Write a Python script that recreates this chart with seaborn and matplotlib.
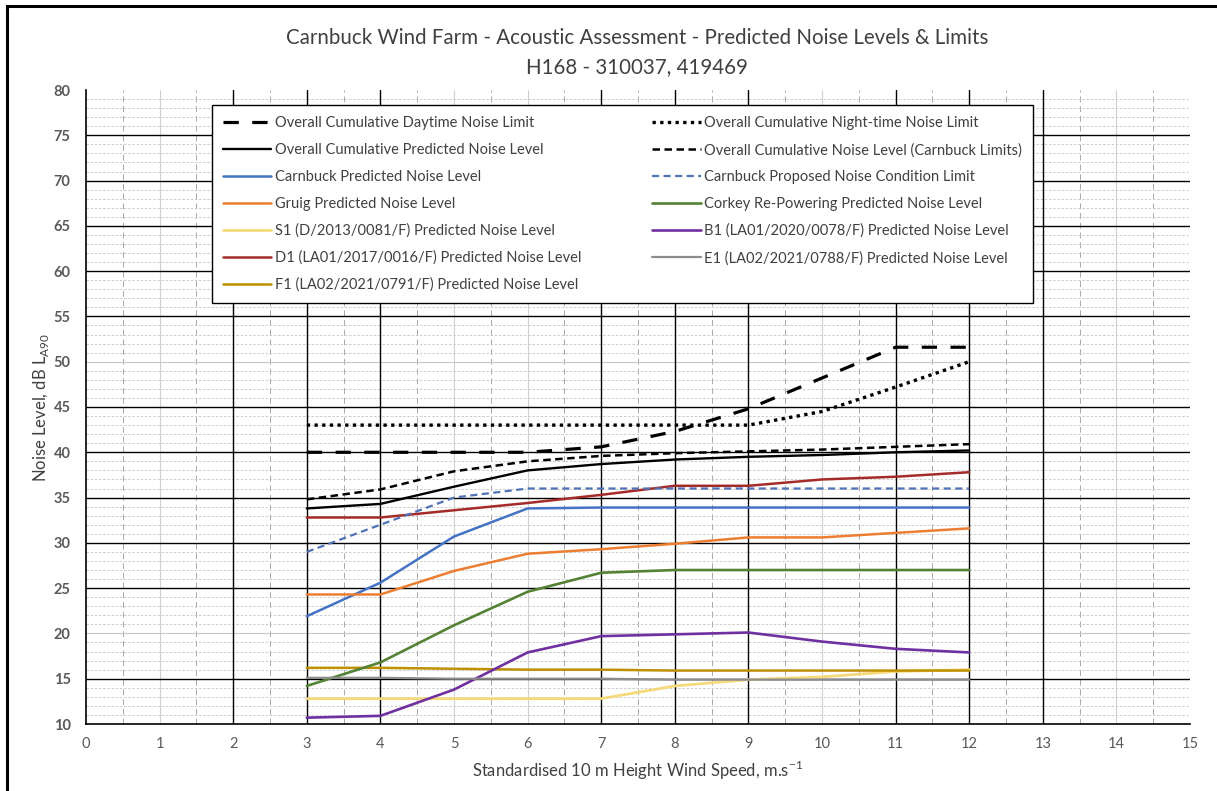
import matplotlib
matplotlib.use("Agg")
import matplotlib.pyplot as plt
from matplotlib.patches import Rectangle
from matplotlib.lines import Line2D
import seaborn as sns
import numpy as np

# Wind speed bins (m/s)
wind_speed = [3, 4, 5, 6, 7, 8, 9, 10, 11, 12]

# Noise levels, dB LA90
daytime_limit = [40.0, 40.0, 40.0, 40.0, 40.6, 42.3, 44.8, 48.2, 51.6, 51.6]
night_limit = [43.0, 43.0, 43.0, 43.0, 43.0, 43.0, 43.0, 44.5, 47.2, 50.0]
overall_predicted = [33.8, 34.3, 36.2, 38.0, 38.7, 39.2, 39.5, 39.7, 40.0, 40.2]
overall_carnbuck_limits = [34.8, 35.9, 37.9, 39.0, 39.6, 39.9, 40.1, 40.3, 40.6, 40.9]
carnbuck_predicted = [21.9, 25.6, 30.7, 33.8, 33.9, 33.9, 33.9, 33.9, 33.9, 33.9]
carnbuck_limit = [29.0, 32.0, 35.0, 36.0, 36.0, 36.0, 36.0, 36.0, 36.0, 36.0]
gruig = [24.3, 24.3, 26.9, 28.8, 29.3, 29.9, 30.6, 30.6, 31.1, 31.6]
corkey = [14.2, 16.8, 20.9, 24.6, 26.7, 27.0, 27.0, 27.0, 27.0, 27.0]
s1 = [12.8, 12.8, 12.8, 12.8, 12.8, 14.2, 14.9, 15.2, 15.8, 16.0]
b1 = [10.7, 10.9, 13.8, 17.9, 19.7, 19.9, 20.1, 19.1, 18.3, 17.9]
d1 = [32.8, 32.8, 33.6, 34.4, 35.3, 36.3, 36.3, 37.0, 37.3, 37.8]
e1 = [15.1, 15.1, 15.0, 15.0, 15.0, 14.9, 14.9, 14.9, 14.9, 14.9]
f1 = [16.2, 16.2, 16.1, 16.0, 16.0, 15.9, 15.9, 15.9, 15.9, 15.9]

labels = [
    "Overall Cumulative Daytime Noise Limit",
    "Overall Cumulative Predicted Noise Level",
    "Carnbuck Predicted Noise Level",
    "Gruig Predicted Noise Level",
    "S1 (D/2013/0081/F) Predicted Noise Level",
    "D1 (LA01/2017/0016/F) Predicted Noise Level",
    "F1 (LA02/2021/0791/F) Predicted Noise Level",
    "Overall Cumulative Night-time Noise Limit",
    "Overall Cumulative Noise Level (Carnbuck Limits)",
    "Carnbuck Proposed Noise Condition Limit",
    "Corkey Re-Powering Predicted Noise Level",
    "B1 (LA01/2020/0078/F) Predicted Noise Level",
    "E1 (LA02/2021/0788/F) Predicted Noise Level",
]

sns.set_style("white")
plt.rcParams["font.family"] = ["Lato", "DejaVu Sans"]

W, H = 1217, 791
fig = plt.figure(figsize=(W / 100, H / 100), dpi=100)
ax = fig.add_axes([86 / W, 1 - 724 / H, 1104 / W, 634 / H])
ax.set_xlim(0, 15)
ax.set_ylim(10, 80)

# Gridlines: dashed minor lines, solid major lines (a few rendered faint)
for xv in np.arange(0.5, 15, 1.0):
    ax.axvline(xv, color="#a8a8a8", lw=0.7, ls=(0, (6, 4)), zorder=0)
for yv in range(11, 80):
    if yv % 5:
        ax.axhline(yv, color="#c4c4c4", lw=0.6, ls=(0, (3, 2)), zorder=0)
strong_x = [2, 3, 4, 7, 8, 9, 11, 12, 13]
faint_x = [1, 5, 6, 10, 14]
strong_y = [15, 25, 30, 35, 40, 45, 55, 60, 65, 70, 75]
faint_y = [20, 50]
for xv in strong_x:
    ax.axvline(xv, color="black", lw=1.0, zorder=0.5)
for xv in faint_x:
    ax.axvline(xv, color="#d0d0d0", lw=0.8, zorder=0.4)
for yv in strong_y:
    ax.axhline(yv, color="black", lw=1.0, zorder=0.5)
for yv in faint_y:
    ax.axhline(yv, color="#c8c8c8", lw=0.8, zorder=0.4)

series = [
    (daytime_limit, "black", 2.3, (0, (4.8, 4.2))),
    (overall_predicted, "black", 1.7, "-"),
    (carnbuck_predicted, "#4472C4", 1.8, "-"),
    (gruig, "#ED7D31", 1.8, "-"),
    (s1, "#F6D97A", 2.0, "-"),
    (d1, "#A52A2A", 1.8, "-"),
    (f1, "#BF9000", 1.8, "-"),
    (night_limit, "black", 2.4, (0, (1.0, 1.3))),
    (overall_carnbuck_limits, "black", 1.8, (0, (3.0, 1.8))),
    (carnbuck_limit, "#4F73B6", 1.6, (0, (3.2, 2.0))),
    (corkey, "#548235", 1.9, "-"),
    (b1, "#7030A0", 1.9, "-"),
    (e1, "#8C8C8C", 1.6, "-"),
]

handles = []
for (vals, col, lw, ls), lab in zip(series, labels):
    sns.lineplot(x=wind_speed, y=vals, ax=ax, color=col, lw=lw,
                 linestyle=ls, zorder=3)
    handles.append(Line2D([], [], color=col, lw=lw, linestyle=ls))

leg = ax.legend(handles, labels, ncol=2, loc="upper left",
                bbox_to_anchor=(0.114, 0.976), fontsize=10.5,
                frameon=True, fancybox=False, edgecolor="black",
                framealpha=1, borderpad=0.75, labelspacing=0.88,
                handlelength=3.3, handletextpad=0.25, columnspacing=4.9,
                borderaxespad=0)
leg.get_frame().set_linewidth(1.0)
for t in leg.get_texts():
    t.set_color("#404040")
leg.set_zorder(5)

ax.set_xticks(range(0, 16))
ax.set_yticks(range(10, 81, 5))
ax.tick_params(axis="both", length=0)
ax.tick_params(axis="y", pad=11, labelsize=10.5, labelcolor="#595959")
ax.tick_params(axis="x", pad=9, labelsize=10.5, labelcolor="#595959")
for lbl in ax.get_yticklabels():
    lbl.set_fontweight("bold")
ax.grid(False)
for side in ["top", "right"]:
    ax.spines[side].set_visible(False)
for side in ["left", "bottom"]:
    ax.spines[side].set_color("black")
    ax.spines[side].set_linewidth(1.2)

ax.set_xlabel(r"Standardised 10 m Height Wind Speed, m.s$^{\mathregular{-1}}$",
              fontsize=12, color="#404040", labelpad=6)
ax.set_ylabel(r"Noise Level, dB L$_{\mathregular{A90}}$",
              fontsize=12, color="#404040", labelpad=2)

fig.text(637 / W, 1 - 38 / H,
         "Carnbuck Wind Farm - Acoustic Assessment - Predicted Noise Levels & Limits",
         ha="center", va="center", fontsize=14.8, color="#404040")
fig.text(637 / W, 1 - 67 / H, "H168 - 310037, 419469",
         ha="center", va="center", fontsize=14.8, color="#404040")

# Outer frame
fig.patches.append(Rectangle((7 / W, -0.1), 1.2, 1 - 6 / H + 0.1,
                             transform=fig.transFigure, fill=False,
                             edgecolor="black", lw=2.2))

fig.savefig("out.png", dpi=100)
